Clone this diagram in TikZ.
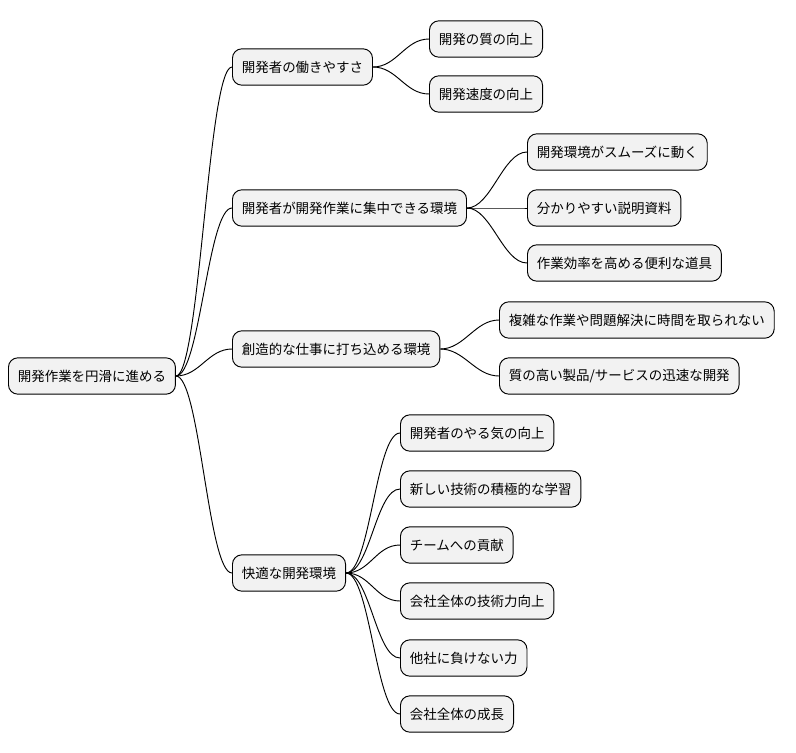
\documentclass[tikz,border=0pt]{standalone}
\usepackage{fontspec}
\setmainfont{Noto Sans CJK JP}
\begin{document}
\begin{tikzpicture}[x=0.03cm, y=-0.03cm,
    topic/.style={draw, thick, fill=gray!10, rounded corners=8pt, anchor=west,
      font=\fontsize{11.5}{14}\selectfont, minimum height=31pt, inner xsep=8pt},
    link/.style={thick}]
  \useasboundingbox (0,0) rectangle (796,752);
  % root
  \node[topic] (root) at (8,376) {開発作業を円滑に進める};
  % first level
  \node[topic] (ease) at (232,67) {開発者の働きやすさ};
  \node[topic] (focus) at (232,208) {開発者が開発作業に集中できる環境};
  \node[topic] (create) at (232,349) {創造的な仕事に打ち込める環境};
  \node[topic] (comfort) at (232,573) {快適な開発環境};
  % second level
  \node[topic] (quality) at (429,39) {開発の質の向上};
  \node[topic] (speed) at (429,94) {開発速度の向上};
  \node[topic] (smooth) at (527,152) {開発環境がスムーズに動く};
  \node[topic] (docs) at (527,208) {分かりやすい説明資料};
  \node[topic] (tools) at (527,263) {作業効率を高める便利な道具};
  \node[topic] (notime) at (499,320) {複雑な作業や問題解決に時間を取られない};
  \node[topic] (product) at (499,376) {質の高い製品/サービスの迅速な開発};
  \node[topic] (motiv) at (400,433) {開発者のやる気の向上};
  \node[topic] (learn) at (400,489) {新しい技術の積極的な学習};
  \node[topic] (team) at (400,545) {チームへの貢献};
  \node[topic] (skill) at (400,601) {会社全体の技術力向上};
  \node[topic] (compete) at (400,658) {他社に負けない力};
  \node[topic] (growth) at (400,714) {会社全体の成長};
  % connectors
  \foreach \p/\c in {root/ease, root/focus, root/create, root/comfort,
      ease/quality, ease/speed, focus/smooth, focus/docs, focus/tools,
      create/notime, create/product, comfort/motiv, comfort/learn,
      comfort/team, comfort/skill, comfort/compete, comfort/growth}
    \draw[link] (\p.east) .. controls +(24,0) and +(-24,0) .. (\c.west);
\end{tikzpicture}
\end{document}
